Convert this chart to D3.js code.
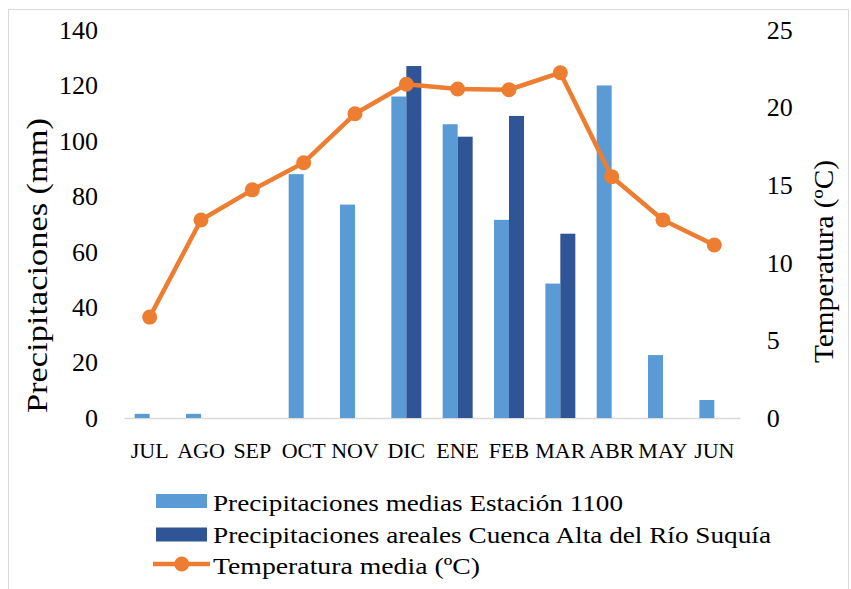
<!DOCTYPE html>
<html>
<head>
<meta charset="utf-8">
<script src="https://cdn.jsdelivr.net/npm/d3@7/dist/d3.min.js"></script>
<style>
  html, body { margin: 0; padding: 0; background: #fff; }
  svg { display: block; }
  text { font-family: "Liberation Serif", "Times New Roman", serif; fill: #000; }
</style>
</head>
<body>
<svg id="chart" width="851" height="589"></svg>
<script>
// Monthly data, hydrological year July–June
const months = ["JUL", "AGO", "SEP", "OCT", "NOV", "DIC", "ENE", "FEB", "MAR", "ABR", "MAY", "JUN"];
// Mean precipitation at station 1100 (mm)
const precipStation = [1.5, 1.5, 0, 88, 77, 116, 106, 71.5, 48.5, 120, 22.7, 6.5];
// Areal precipitation, upper Suquía basin (mm); only available Dec–Mar
const precipAreal = [null, null, null, null, null, 127, 101.5, 109, 66.5, null, null, null];
// Mean temperature (ºC)
const tempMean = [6.5, 12.76, 14.7, 16.45, 19.6, 21.5, 21.2, 21.15, 22.25, 15.55, 12.76, 11.15];

const precipTicks = [0, 20, 40, 60, 80, 100, 120, 140];
const tempTicks = [0, 5, 10, 15, 20, 25];

const seriesNames = [
  "Precipitaciones medias Estación 1100",
  "Precipitaciones areales Cuenca Alta del Río Suquía",
  "Temperatura media (ºC)"
];

const colors = { station: "#5B9BD5", areal: "#2F5597", temp: "#ED7D31" };
const serif = "'Liberation Serif', 'Times New Roman', serif";

const svg = d3.select("#chart");

// chart frame
svg.append("rect")
  .attr("x", 8.5).attr("y", 9.5)
  .attr("width", 840).attr("height", 600)
  .attr("fill", "#fff")
  .attr("stroke", "#d9d9d9").attr("stroke-width", 1);

const plot = { left: 124, right: 740, top: 30, bottom: 418 };

const x0 = d3.scaleBand().domain(months)
  .range([plot.left, plot.right])
  .paddingInner(0.416).paddingOuter(0.208);
const x1 = d3.scaleBand().domain(["station", "areal"]).range([0, x0.bandwidth()]);
const yP = d3.scaleLinear().domain([0, 140]).range([plot.bottom, plot.top]);
const yT = d3.scaleLinear().domain([0, 25]).range([plot.bottom, plot.top]);
const xc = m => x0(m) + x0.bandwidth() / 2;

// category axis
const gx = svg.append("g")
  .attr("transform", `translate(0,${plot.bottom})`)
  .call(d3.axisBottom(x0).tickSize(0).tickSizeOuter(0).tickPadding(24.5));
gx.select(".domain").attr("stroke", "#d9d9d9").attr("stroke-width", 1.3);
gx.selectAll("text").style("font-size", "22px").style("font-family", serif).attr("fill", "#000");

// precipitation axis
const gl = svg.append("g")
  .attr("transform", `translate(${plot.left},0)`)
  .call(d3.axisLeft(yP).tickValues(precipTicks).tickSize(0).tickPadding(26));
gl.select(".domain").remove();
gl.selectAll("text").style("font-size", "26px").style("font-family", serif).attr("fill", "#000");

// temperature axis
const gr = svg.append("g")
  .attr("transform", `translate(${plot.right},0)`)
  .call(d3.axisRight(yT).tickValues(tempTicks).tickSize(0).tickPadding(26.7));
gr.select(".domain").remove();
gr.selectAll("text").style("font-size", "26px").style("font-family", serif).attr("fill", "#000");

// bars
const barData = [];
months.forEach((m, i) => {
  if (precipStation[i] != null) barData.push({ m, key: "station", v: precipStation[i] });
  if (precipAreal[i] != null) barData.push({ m, key: "areal", v: precipAreal[i] });
});
svg.append("g").selectAll("rect")
  .data(barData.filter(d => d.v > 0))
  .join("rect")
  .attr("x", d => x0(d.m) + x1(d.key))
  .attr("width", x1.bandwidth())
  .attr("y", d => yP(d.v))
  .attr("height", d => yP(0) - yP(d.v))
  .attr("fill", d => colors[d.key]);

// temperature line
const line = d3.line().x((d, i) => xc(months[i])).y(d => yT(d));
svg.append("path")
  .datum(tempMean)
  .attr("d", line)
  .attr("fill", "none")
  .attr("stroke", colors.temp)
  .attr("stroke-width", 4.5)
  .attr("stroke-linejoin", "round");
svg.append("g").selectAll("circle")
  .data(tempMean)
  .join("circle")
  .attr("cx", (d, i) => xc(months[i]))
  .attr("cy", d => yT(d))
  .attr("r", 7.5)
  .attr("fill", colors.temp);

// axis titles
svg.append("text")
  .attr("transform", "translate(47,265.5) rotate(-90)")
  .attr("text-anchor", "middle")
  .attr("textLength", 295).attr("lengthAdjust", "spacingAndGlyphs")
  .style("font-size", "30px")
  .text("Precipitaciones (mm)");
svg.append("text")
  .attr("transform", "translate(833,261.5) rotate(-90)")
  .attr("text-anchor", "middle")
  .attr("textLength", 203).attr("lengthAdjust", "spacingAndGlyphs")
  .style("font-size", "27px")
  .text("Temperatura (ºC)");

// legend
const legend = svg.append("g");
const rows = [
  { y: 501, base: 510.7, len: 410, type: "rect", color: colors.station },
  { y: 534.5, base: 543.3, len: 558, type: "rect", color: colors.areal },
  { y: 564, base: 574.3, len: 267, type: "line", color: colors.temp }
];
rows.forEach((r, i) => {
  if (r.type === "rect") {
    legend.append("rect")
      .attr("x", 156).attr("y", r.y - 7)
      .attr("width", 51).attr("height", 14)
      .attr("fill", r.color);
  } else {
    legend.append("line")
      .attr("x1", 153).attr("x2", 210)
      .attr("y1", r.y).attr("y2", r.y)
      .attr("stroke", r.color).attr("stroke-width", 4.5);
    legend.append("circle")
      .attr("cx", 181.7).attr("cy", r.y).attr("r", 7.5)
      .attr("fill", r.color);
  }
  legend.append("text")
    .attr("x", 213).attr("y", r.base)
    .attr("textLength", r.len).attr("lengthAdjust", "spacingAndGlyphs")
    .style("font-size", "23px")
    .text(seriesNames[i]);
});
</script>
</body>
</html>
